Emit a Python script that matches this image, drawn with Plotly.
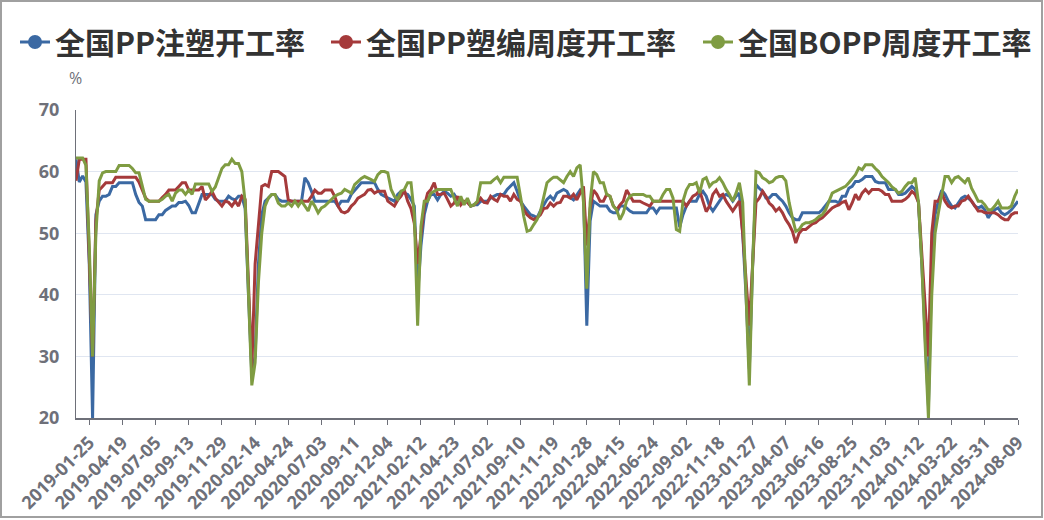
import plotly.graph_objects as go
from datetime import date, timedelta

# ---------------- data ----------------
tick_labels = ["2019-01-25", "2019-04-19", "2019-07-05", "2019-09-13", "2019-11-29",
               "2020-02-14", "2020-04-24", "2020-07-03", "2020-09-11", "2020-12-04",
               "2021-02-12", "2021-04-23", "2021-07-02", "2021-09-10", "2021-11-19",
               "2022-01-28", "2022-04-15", "2022-06-24", "2022-09-02", "2022-11-18",
               "2023-01-27", "2023-04-07", "2023-06-16", "2023-08-25", "2023-11-03",
               "2024-01-12", "2024-03-22", "2024-05-31", "2024-08-09"]
lead_weeks = ["2018-12-28", "2019-01-04", "2019-01-11", "2019-01-18"]

names = ["全国PP注塑开工率", "全国PP塑编周度开工率", "全国BOPP周度开工率"]

pp_injection = [
    62, 58.3, 59.3, 58.3, 45, 20, 53, 55.2, 56, 56,
    56.3, 57.6, 57.6, 58.2, 58.2, 58.2, 58.2, 58.2, 56.3, 55,
    54.4, 52.2, 52.2, 52.2, 52.2, 53, 53, 53.7, 54.1, 54.4,
    54.4, 55, 55, 55.2, 54.5, 53.3, 53.3, 55, 56.3, 56.3,
    56.3, 56.3, 55.5, 55.2, 55.2, 55.2, 56, 55.6, 55.4, 56,
    56, 54, 40, 27, 30, 45, 53, 55.2, 55.7, 56.3,
    56.3, 55.5, 55.2, 55.2, 55.2, 55.2, 55.2, 55.2, 55.2, 59,
    58.2, 56.8, 55.2, 55.2, 55.2, 55.2, 55.2, 55.2, 55.2, 54.4,
    55.2, 55.2, 55.2, 56.3, 57, 57.6, 58.2, 58.2, 58.2, 58.2,
    58.2, 57.1, 56.3, 56, 55.7, 55.4, 55.2, 56.3, 56.8, 56.5,
    56.3, 55.5, 54.4, 40, 48, 53, 55.2, 56.3, 56.3, 55.4,
    56.3, 56.8, 56.5, 56, 56.3, 55.4, 55.2, 54.9, 55.2, 54.4,
    54.6, 54.6, 55.2, 55.2, 55.2, 55.7, 56, 56.3, 56.3, 56.3,
    57.1, 57.6, 58.2, 56.8, 55.2, 54.4, 53.6, 53, 52.8, 52.5,
    53.6, 54.5, 55.5, 56, 55.4, 56.5, 56.8, 57.1, 56.8, 55.8,
    55.4, 56.3, 57, 56.3, 35, 52, 55.2, 54.8, 54.4, 54.4,
    54.4, 53.6, 53.3, 53.3, 54.4, 54.4, 54.1, 53.6, 53.3, 53.3,
    53.3, 53.3, 53.3, 54.1, 54.1, 53.3, 54.1, 54.1, 54.1, 54.1,
    54.1, 54.1, 51, 53, 54.4, 55.2, 55.2, 55.2, 56.3, 56.8,
    56, 54.4, 53.6, 54.4, 55.2, 56, 56.3, 56, 55.2, 56,
    56.5, 50, 40, 28, 45, 57.9, 57.3, 56.8, 55.7, 55.7,
    56.3, 56.3, 55.7, 55.2, 54.4, 53.3, 52.5, 52.2, 52.2, 53.3,
    53.3, 53.3, 53.3, 53.3, 53.3, 53.8, 54.6, 55.2, 55.2, 55.2,
    54.9, 56, 56, 57.3, 57.6, 58.4, 58.4, 58.7, 59.2, 59.2,
    59.2, 58.4, 58.2, 58.2, 58.2, 57.1, 57.1, 57.1, 56.3, 56.3,
    56.5, 57.1, 57.6, 57.1, 55, 45, 33, 22, 45, 53,
    55.2, 57, 56.3, 55.2, 54.4, 54.1, 54.9, 55.7, 56, 55.7,
    55.2, 54.4, 54.1, 54.4, 53.8, 52.5, 53.3, 53.8, 54.1, 53.3,
    53, 53.3, 53.8, 54.6, 55.2,
]

pp_weaving = [
    58.5, 62, 62, 62, 46, 30, 52, 57, 57.6, 58.2,
    58.2, 58.2, 59.1, 59.1, 59.1, 59.1, 59.1, 59.1, 59.1, 58.3,
    57, 55.7, 55.2, 55.2, 55.2, 55.2, 55.8, 56.3, 57, 57,
    57, 57.6, 58.2, 58.2, 57, 57, 57, 57, 57.6, 55.4,
    56, 56.8, 55.7, 55, 54.4, 55.2, 55, 54.4, 55.2, 54.4,
    56, 55.5, 42, 28, 45, 52, 57.6, 57.9, 57.6, 60,
    60, 60, 59.6, 59.2, 55.4, 55.2, 55.2, 55.2, 55.2, 55.2,
    55.2, 56, 57, 56.5, 56.5, 57, 57, 57, 56, 54.4,
    53.5, 53.3, 53.6, 54.4, 54.9, 55.7, 56, 56.3, 57, 57.1,
    56.5, 56.8, 56.8, 56.8, 55.2, 54.8, 54.4, 55.4, 56, 57,
    55.2, 54, 51.6, 45, 50, 54.4, 56.5, 57.1, 58.2, 56.3,
    56.3, 56.5, 55.5, 54.4, 54.9, 56, 54.6, 55.2, 55, 54.4,
    54.6, 55, 55.7, 55, 54.9, 56, 55.5, 55.2, 56.3, 56,
    56, 55.2, 56.3, 55.5, 55.2, 53.8, 53, 52.5, 52.2, 52.5,
    53, 54, 54.1, 54.9, 54.4, 54.9, 55, 56, 56, 55.7,
    56.3, 55.4, 56.5, 57.6, 48, 54, 57, 56.3, 55.2, 55.2,
    56.3, 56, 54.4, 53.8, 54.6, 55.2, 57, 56, 55.2, 55.2,
    55.2, 54.9, 54.6, 54.4, 55.2, 55.2, 55.2, 55.2, 55.2, 55.2,
    55.2, 55.2, 55.2, 55.2, 54.4, 55.2, 56, 56.3, 57, 55.2,
    53.5, 54.4, 56.3, 57, 56, 56.3, 55.2, 54.4, 53.6, 54.4,
    55.2, 50, 42, 35, 45, 55, 55.7, 56.8, 56, 54.9,
    54.4, 53.6, 54.1, 53.3, 52.2, 51.4, 50.3, 48.4, 50, 50.6,
    50.6, 51.1, 51.5, 51.7, 52.2, 52.5, 53, 53.6, 54.1, 54.4,
    54.6, 55, 55.2, 53.8, 54.9, 56.3, 55.4, 56.5, 57.1, 56.5,
    57.1, 57.1, 57.1, 56.8, 56.3, 56.3, 55.2, 55.2, 55.2, 55.2,
    55.5, 56, 56.8, 56.3, 55, 47, 38, 30, 50, 55.2,
    55.2, 56.5, 55.2, 54.4, 54.1, 54.4, 54.4, 55.2, 55.4, 56,
    55.2, 54.4, 53.6, 53.6, 53.3, 53.3, 53.3, 53.3, 53, 52.5,
    52.2, 52.2, 53, 53.3, 53.3,
]

bopp = [
    62.2, 62.2, 62.2, 61, 48, 30, 50, 58.5, 59.8, 60,
    60, 60, 60, 61, 61, 61, 61, 60.5, 59.8, 59.8,
    57.5, 55.5, 55.2, 55.2, 55.2, 55.2, 55.5, 56, 56.3, 55.2,
    56.5, 57, 57, 56.3, 57, 56.3, 58, 58, 58, 58,
    58, 56.8, 57.5, 59, 60.5, 61.1, 61.1, 62, 61.3, 61.3,
    60, 55, 40, 25.3, 29, 42, 50, 54.4, 55.7, 56.3,
    56.3, 54.9, 54.4, 54.4, 54.9, 54.4, 55.2, 54.4, 55.2, 54.4,
    53.6, 55.2, 54.4, 53.3, 54.1, 54.4, 54.9, 55.4, 56, 56.3,
    56.5, 57.1, 56.8, 56.5, 57.9, 58.4, 58.9, 59.2, 59, 58.7,
    58.4, 59.5, 60, 60, 59.8, 57.1, 56, 55.5, 56.8, 57.1,
    58.2, 58.2, 53, 35, 51.1, 55.2, 55.2, 56.5, 56.8, 57.1,
    57.1, 57.1, 57.1, 57.1, 55.7, 54.4, 56, 54.6, 55.7, 54.4,
    54.6, 55.2, 58.2, 58.2, 58.2, 58.2, 58.7, 59.1, 58.2, 59.1,
    59.1, 59.1, 59.1, 59.1, 56, 52.7, 50.3, 50.5, 51.4, 52.2,
    53.5, 56, 58.2, 58.7, 59.1, 59.1, 58.7, 58.2, 59.2, 60,
    59.2, 60.6, 61.1, 55, 41, 55, 60, 59.5, 58.2, 58.2,
    56.3, 56, 54.4, 53.8, 52.2, 53.3, 55.2, 56, 56.3, 56.3,
    56.3, 56.3, 56, 56, 55.2, 55.2, 55.2, 56.3, 57.1, 57.1,
    55.7, 50.6, 50.3, 55.2, 57, 57.9, 57.9, 58.2, 56.5, 58.7,
    59, 57.6, 58.2, 58.4, 59, 58.2, 57.1, 56.3, 55.2, 56.5,
    58.2, 55, 40, 25.3, 45, 60, 59.8, 59, 58.7, 58.2,
    58.4, 59, 59.2, 59.2, 58.5, 55, 52.5, 50.3, 50.6, 51.4,
    51.7, 51.7, 51.9, 52.2, 52.7, 53, 53.8, 55.2, 56.5, 56.8,
    57.1, 57.4, 57.6, 58.2, 58.9, 59.5, 60.6, 60.3, 61.1, 61.1,
    61.1, 60.5, 60, 59.2, 58.7, 58.2, 57.5, 57.1, 56.5, 56.8,
    57.6, 58.2, 58.2, 59, 55, 45, 32, 20, 40, 50,
    53.3, 56.5, 59.2, 59.2, 58.2, 59, 59.2, 58.7, 58.2, 59,
    57.3, 56.3, 55.2, 55.2, 54.6, 53.8, 53.8, 54.4, 55.2, 54.1,
    54.1, 54.1, 54.4, 56, 57.1,
]

colors = ["#3B69A3", "#A53A3B", "#7F9C42"]

# weekly categories: a few lead weeks, then 10 categories per labelled segment
categories = list(lead_weeks)
for lab in tick_labels[:-1]:
    d0 = date.fromisoformat(lab)
    for k in range(10):
        categories.append((d0 + timedelta(days=7 * k)).isoformat())
categories.append(tick_labels[-1])

n = len(categories)

# ---------------- figure ----------------
W, H = 1044, 520
ML, MR, MT, MB = 76, 26, 110, 102
PW, PH = W - ML - MR, H - MT - MB

fig = go.Figure()
series = [pp_injection, pp_weaving, bopp]
for name, vals, col in zip(names, series, colors):
    fig.add_trace(go.Scatter(
        x=categories[:len(vals)], y=vals, name=name, mode="lines",
        line=dict(color=col, width=3), showlegend=False,
        hovertemplate="%{x}<br>%{y}<extra>" + name + "</extra>",
    ))

legend_ids = ["legend", "legend2", "legend3"]
legend_text_x = [57, 368, 740]   # where each legend text starts (px)
for name, col, lid in zip(names, colors, legend_ids):
    fig.add_trace(go.Scatter(
        x=[None], y=[None], name=name, mode="lines+markers",
        line=dict(color=col, width=3), marker=dict(color=col, size=14),
        showlegend=True, hoverinfo="skip", legend=lid,
    ))

legend_font = dict(family="Noto Sans CJK SC", size=30, color="#333333", weight="bold")
legends = {}
for lid, tx in zip(legend_ids, legend_text_x):
    legends[lid] = dict(
        orientation="h", xref="container", yref="container",
        x=(tx - 42) / W, xanchor="left", y=1 - 42 / H, yanchor="middle",
        font=legend_font, itemwidth=30, bgcolor="rgba(0,0,0,0)", borderwidth=0,
    )

axis_col = "#6E7079"
fig.update_layout(
    template="none",
    width=W, height=H,
    margin=dict(l=ML, r=MR, t=MT, b=MB, pad=0),
    paper_bgcolor="white", plot_bgcolor="white",
    showlegend=True,
    xaxis=dict(
        type="category", categoryorder="array", categoryarray=categories,
        range=[0, n - 1], automargin=False,
        tickmode="array", tickvals=tick_labels, ticktext=tick_labels,
        tickangle=-45, ticks="outside", ticklen=5, tickwidth=1, tickcolor=axis_col,
        showline=True, linecolor=axis_col, linewidth=2, mirror=False,
        showgrid=False, zeroline=False,
        tickfont=dict(family="Open Sans", size=18, color=axis_col, weight="bold"),
    ),
    yaxis=dict(
        range=[20, 70], tickmode="array", tickvals=[20, 30, 40, 50, 60, 70],
        automargin=False, ticks="", ticklabelstandoff=12,
        showline=True, linecolor=axis_col, linewidth=1,
        showgrid=True, gridcolor="#E0E6F1", gridwidth=1, zeroline=False,
        tickfont=dict(family="Open Sans", size=18, color=axis_col, weight="bold"),
    ),
    hovermode="closest",
    **legends,
)

fig.add_annotation(
    text="%", xref="paper", yref="paper",
    x=(75 - ML) / PW, y=(H - MB - 78) / PH, xanchor="center", yanchor="middle",
    showarrow=False, font=dict(family="Open Sans", size=16, color=axis_col),
)

# outer frame
fig.add_shape(
    type="rect", xref="paper", yref="paper",
    x0=(1 - ML) / PW, x1=(1042 - ML) / PW,
    y0=(H - MB - 517) / PH, y1=(H - MB - 1) / PH,
    line=dict(color="#A0A0A0", width=2), fillcolor="rgba(0,0,0,0)", layer="above",
)

fig.write_html("out.html", config={"displayModeBar": False},
               post_script="document.body.style.margin='0';")
